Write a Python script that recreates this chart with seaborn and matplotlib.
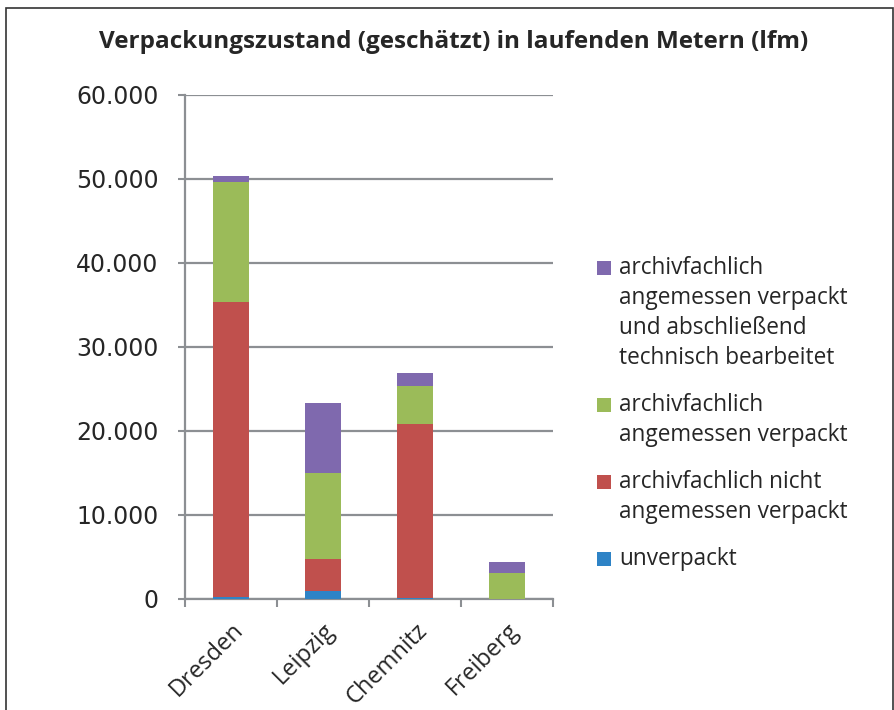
import numpy as np
import pandas as pd
import seaborn as sns
import matplotlib.pyplot as plt
from matplotlib.patches import Rectangle

standorte = ["Dresden", "Leipzig", "Chemnitz", "Freiberg"]
unverpackt = [200, 900, 100, 0]
nicht_angemessen = [35200, 3830, 20700, 0]
angemessen = [14300, 10300, 4500, 3150]
abschliessend = [700, 8250, 1600, 1200]

reihen = [
    ("unverpackt", unverpackt, "#2E83C6"),
    ("archivfachlich nicht\nangemessen verpackt", nicht_angemessen, "#C0504D"),
    ("archivfachlich\nangemessen verpackt", angemessen, "#9BBB59"),
    ("archivfachlich\nangemessen verpackt\nund abschließend\ntechnisch bearbeitet", abschliessend, "#7F69AE"),
]
yticks = [0, 10000, 20000, 30000, 40000, 50000, 60000]
ytick_labels = ["0", "10.000", "20.000", "30.000", "40.000", "50.000", "60.000"]

sns.set_theme(style="white")
plt.rcParams["font.family"] = ["Open Sans", "DejaVu Sans"]

W, H = 895, 710
fig = plt.figure(figsize=(W / 100, H / 100), dpi=100)
ax = fig.add_axes([185 / W, 1 - 599 / H, 368 / W, 504 / H])

# gestapelt: kumulierte Summen von oben nach unten zeichnen
kum = np.cumsum([r[1] for r in reihen], axis=0)
for (name, werte, farbe), summe in reversed(list(zip(reihen, kum))):
    df = pd.DataFrame({"standort": standorte, "wert": summe})
    sns.barplot(data=df, x="standort", y="wert", color=farbe, width=0.4,
                saturation=1, linewidth=0, edgecolor="none", ax=ax, zorder=3)

ax.set_ylim(0, 60000)
ax.set_xlim(-0.5, 3.5)
ax.set_yticks(yticks)
ax.set_yticklabels(ytick_labels, fontsize=17, family=["DejaVu Sans"])
ax.set_xticks(range(len(standorte)))
ax.set_xticklabels(standorte, rotation=45, ha="right", rotation_mode="anchor",
                   fontsize=17)
ax.set_xticks(np.arange(-0.5, 4, 1), minor=True)
ax.tick_params(axis="x", which="major", length=0, pad=14)
ax.tick_params(axis="x", which="minor", length=6, width=1.5, color="#8C8F93",
               direction="out", bottom=True)
ax.tick_params(axis="y", length=5, width=1.5, color="#8C8F93", direction="out",
               left=True, pad=14)
ax.set_xlabel("")
ax.set_ylabel("")
ax.grid(axis="y", color="#8C8F93", linewidth=1.6, zorder=0)
ax.set_axisbelow(True)
for s in ["top", "right"]:
    ax.spines[s].set_visible(False)
for s in ["left", "bottom"]:
    ax.spines[s].set_color("#8C8F93")
    ax.spines[s].set_linewidth(1.6)

fig.text(454 / W, 1 - 42 / H,
         "Verpackungszustand (geschätzt) in laufenden Metern (lfm)",
         ha="center", va="center", fontsize=17.5, fontweight="bold")

# Legende: Quadrat an der ersten Zeile, Einträge von oben nach unten
y = 268
for name, _, farbe in reversed(reihen):
    fig.patches.append(Rectangle((597 / W, 1 - (y + 7) / H), 14 / W, 14 / H,
                                 transform=fig.transFigure, facecolor=farbe,
                                 edgecolor="none"))
    for zeile in name.split("\n"):
        fig.text(619 / W, 1 - y / H, zeile, ha="left", va="center",
                 fontsize=16.3)
        y += 30
    y += 17

fig.patches.append(Rectangle((6 / W, -0.1), 887 / W, 1 - 8 / H + 0.1,
                             transform=fig.transFigure, fill=False,
                             edgecolor="#333333", linewidth=1.2))

fig.savefig("out.png", dpi=100)
